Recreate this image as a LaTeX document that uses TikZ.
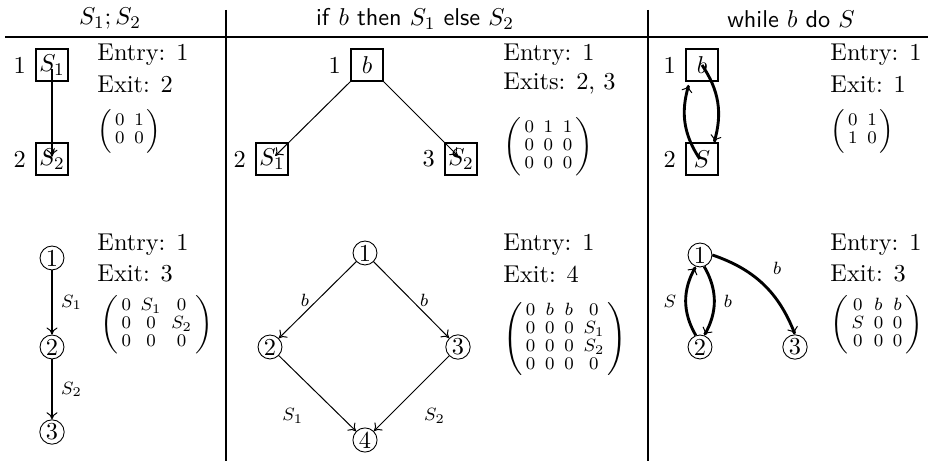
\documentclass[tikz,border=0pt,11pt]{standalone}
\usepackage{amsmath}
\usepackage{tikz}
\usetikzlibrary{positioning,arrows.meta}

\newcommand{\cfgmat}[2]{{\delimitershortfall=-1pt\delimiterfactor=1000
  \left(\vcenter{\hbox{\scriptsize\setlength{\arraycolsep}{2.2pt}%
  \renewcommand{\arraystretch}{0.85}%
  $\begin{array}{@{\,}#1@{\,}}#2\end{array}$}}\right)}}

\tikzset{
  blk/.style={draw, line width=0.9pt, minimum size=14pt, inner sep=1pt},
  pt/.style={circle, draw, inner sep=0.6pt, minimum size=10.4pt},
  info/.style={anchor=west, inner sep=0pt},
  lbl/.style={font=\scriptsize},
  tip/.style={-{To[length=3.2pt,width=5pt,line width=0.45pt]}},
  arA/.style={tip, line width=0.9pt},
  arB/.style={tip, line width=0.45pt},
  arC/.style={tip, line width=1.3pt},
  rule/.style={line width=1.2pt}
}

\begin{document}
\begin{tikzpicture}[x=0.45pt, y=-0.45pt]
  \useasboundingbox (0,0) rectangle (928,461);

  % headers and rules
  \node (h1) at (110,19) {$S_1; S_2$};
  \node (h2) at (415,19) {\textsf{if} $b$ \textsf{then} $S_1$ \textsf{else} $S_2$};
  \node (h3) at (791,19) {\textsf{while} $b$ \textsf{do} $S$};
  \draw[line width=1pt] (5,37) -- (928,37);
  \draw[rule] (226,10) -- (226,461);
  \draw[rule] (648,10) -- (648,461);

  % sequence, blocks
  \node[blk] (sq1) at (52,65) {$S_1$};
  \node[blk] (sq2) at (52,159) {$S_2$};
  \node[left=0.5pt of sq1] (nsq1) {1};
  \node[left=0.5pt of sq2] (nsq2) {2};
  \draw[arA, shorten <=2pt, shorten >=1pt] (sq1.center) -- (sq2.center);
  \node[info] (en1) at (97,55) {Entry: 1};
  \node[info] (ex1) at (97,84) {Exit: 2};
  \node[info] (mx1) at (97,131) {$\cfgmat{cc}{0&1\\0&0}$};

  % conditional, blocks
  \node[blk] (cb) at (367,65) {$b$};
  \node[blk] (cs1) at (272,159) {$S_1$};
  \node[blk] (cs2) at (461,159) {$S_2$};
  \node[left=0.5pt of cb] (ncb) {1};
  \node[left=0.5pt of cs1] (ncs1) {2};
  \node[left=0.5pt of cs2] (ncs2) {3};
  \draw[arB, shorten >=2pt] (cb.south west) -- (cs1.center);
  \draw[arB, shorten >=2pt] (cb.south east) -- (cs2.center);
  \node[info] (en2) at (503,55) {Entry: 1};
  \node[info] (ex2) at (503,84) {Exits: 2, 3};
  \node[info] (mx2) at (503,147) {$\cfgmat{ccc}{0&1&1\\0&0&0\\0&0&0}$};

  % loop, blocks
  \node[blk] (wb) at (702,65) {$b$};
  \node[blk] (ws) at (702,159) {$S$};
  \node[left=0.5pt of wb] (nwb) {1};
  \node[left=0.5pt of ws] (nws) {2};
  \draw[arC] (wb.center) to[bend left=25] ([xshift=-2pt]ws.north east);
  \draw[arC] ([xshift=-1pt]ws.center) to[bend left=25] ([shift={(1.5pt,-1.5pt)}]wb.south west);
  \node[info] (en3) at (830,55) {Entry: 1};
  \node[info] (ex3) at (830,84) {Exit: 1};
  \node[info] (mx3) at (830,131) {$\cfgmat{cc}{0&1\\1&0}$};

  % sequence, points
  \node[pt] (q1) at (52,258) {1};
  \node[pt] (q2) at (52,347) {2};
  \node[pt] (q3) at (52,432) {3};
  \draw[arA] (q1) -- node[lbl, right] {$S_1$} (q2);
  \draw[arA] (q2) -- node[lbl, right] {$S_2$} (q3);
  \node[info] (en4) at (97,245) {Entry: 1};
  \node[info] (ex4) at (97,274) {Exit: 3};
  \node[info] (mx4) at (100,325) {$\cfgmat{ccc}{0&S_1&0\\0&0&S_2\\0&0&0}$};

  % conditional, points
  \node[pt] (p1) at (365,253) {1};
  \node[pt] (p2) at (270,347) {2};
  \node[pt] (p3) at (458,347) {3};
  \node[pt] (p4) at (365,440) {4};
  \draw[arB] (p1) -- node[lbl, left] {$b$} (p2);
  \draw[arB] (p1) -- node[lbl, right] {$b$} (p3);
  \draw[arB] (p2) -- node[lbl, pos=0.8, left=13pt] {$S_1$} (p4);
  \draw[arB] (p3) -- node[lbl, pos=0.8, right=12pt] {$S_2$} (p4);
  \node[info] (en5) at (503,245) {Entry: 1};
  \node[info] (ex5) at (503,274) {Exit: 4};
  \node[info] (mx5) at (503,339) {$\cfgmat{cccc}{0&b&b&0\\0&0&0&S_1\\0&0&0&S_2\\0&0&0&0}$};

  % loop, points
  \node[pt] (r1) at (700,255) {1};
  \node[pt] (r2) at (700,347) {2};
  \node[pt] (r3) at (795,347) {3};
  \draw[arC] (r2.110) to[bend left=30] node[lbl, left] {$S$} (r1.250);
  \draw[arC] (r1.290) to[bend left=30] node[lbl, right] {$b$} (r2.70);
  \draw[arC] (r1.east) to[bend left=25] node[lbl, above right] {$b$} (r3.north);
  \node[info] (en6) at (830,245) {Entry: 1};
  \node[info] (ex6) at (830,274) {Exit: 3};
  \node[info] (mx6) at (830,325) {$\cfgmat{ccc}{0&b&b\\S&0&0\\0&0&0}$};
\end{tikzpicture}
\end{document}
